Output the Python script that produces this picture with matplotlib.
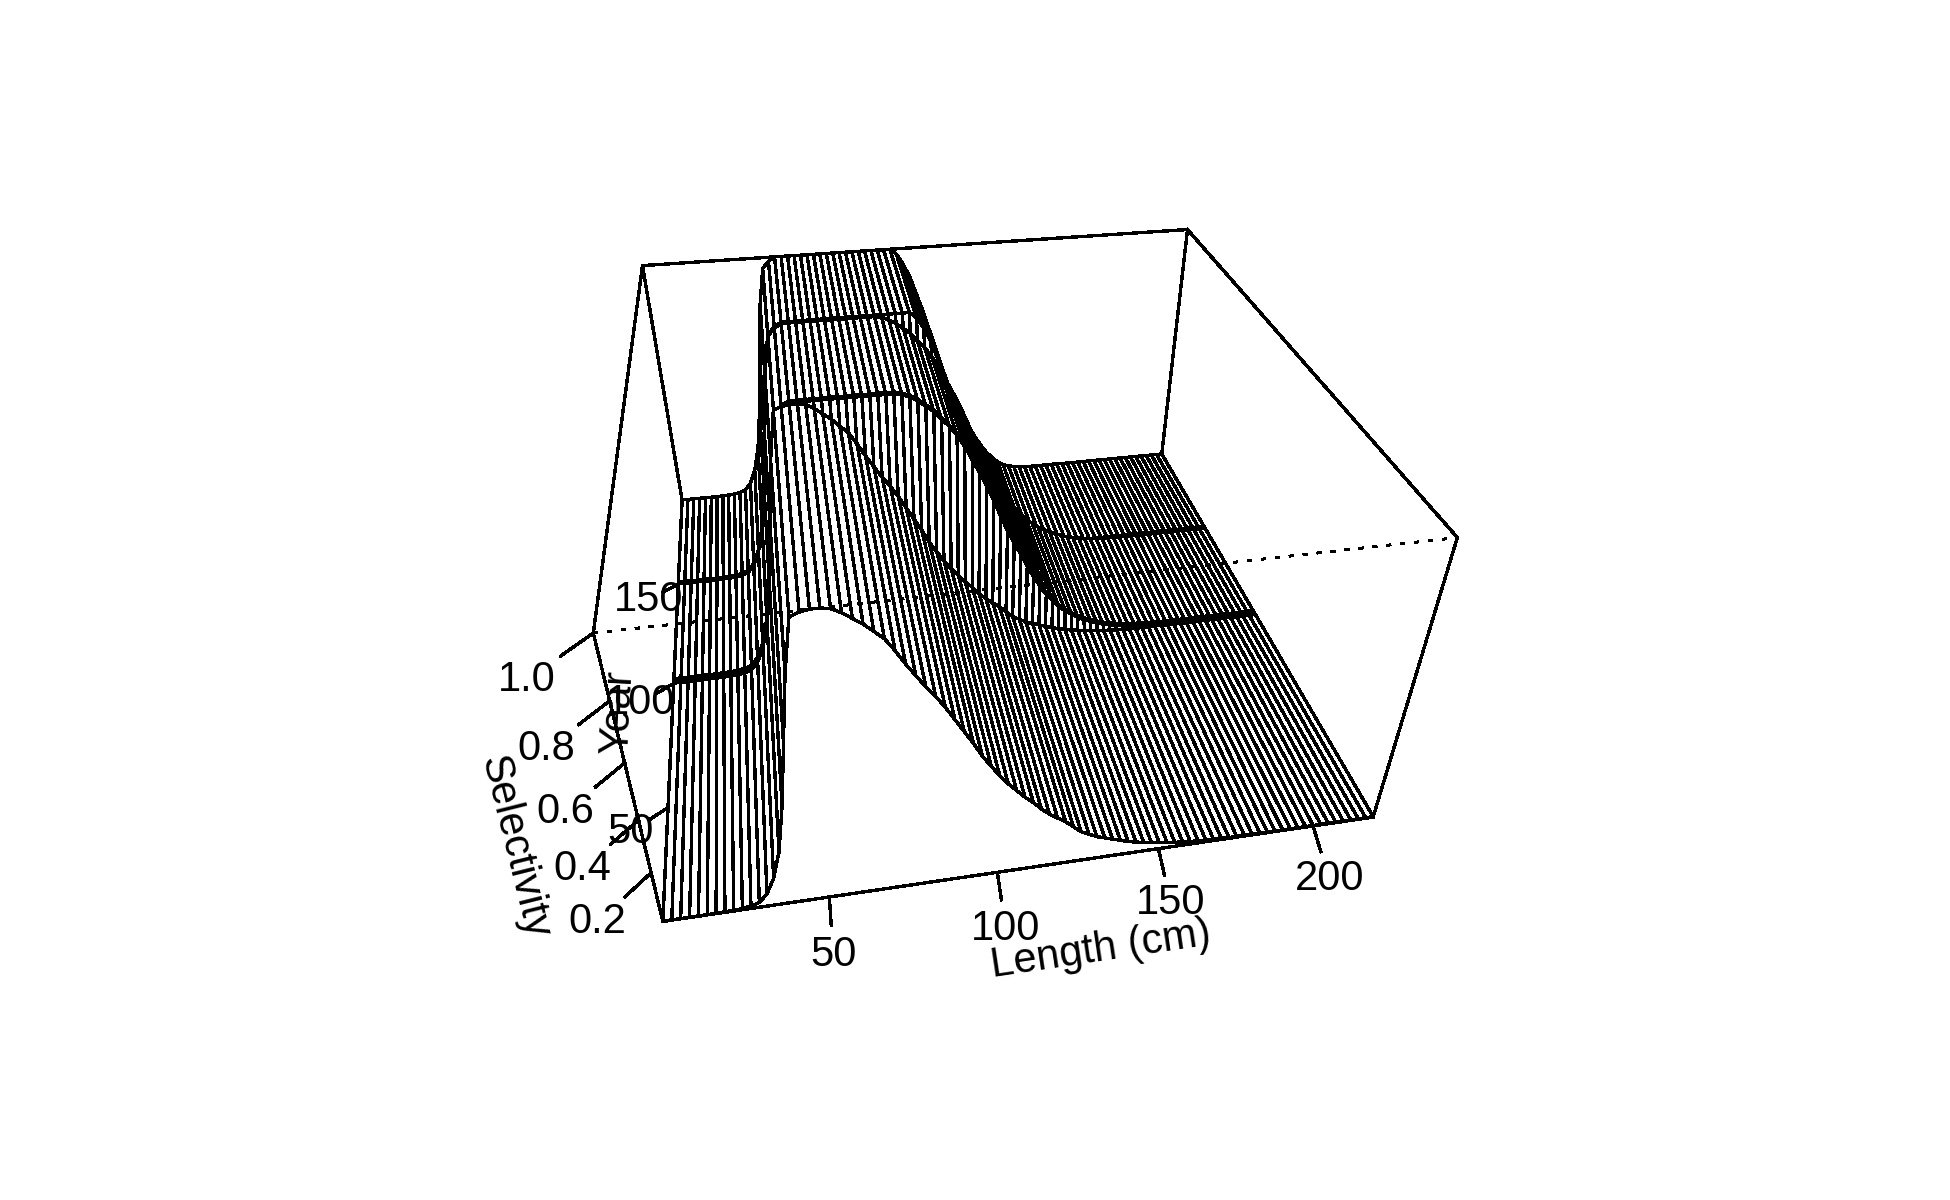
import matplotlib
matplotlib.use("Agg")
from matplotlib import pyplot
from matplotlib.collections import PolyCollection
import numpy as np

pyplot.rcParams["font.family"] = ["Liberation Sans", "DejaVu Sans"]

# selectivity, one value per 2.5 cm length class from 2.5 to 220
lengths = np.arange(2.5, 222.5, 2.5)
rising = [0.001, 0.001, 0.001, 0.001, 0.001, 0.001, 0.001, 0.002, 0.003, 0.005,
          0.01, 0.02, 0.05, 0.11, 0.21, 0.38, 0.60, 0.82]
dome = rising + [0.985, 0.995, 1.0, 1.0, 0.995, 0.98, 0.96, 0.94, 0.915, 0.89,
                 0.85, 0.805, 0.765, 0.725, 0.69, 0.65, 0.605, 0.56, 0.515, 0.465,
                 0.425, 0.385, 0.35, 0.32, 0.29, 0.265, 0.235, 0.21, 0.19, 0.17,
                 0.145, 0.12, 0.105, 0.09, 0.08, 0.07, 0.06, 0.05, 0.043, 0.036,
                 0.03, 0.025, 0.021, 0.017, 0.014, 0.011, 0.009, 0.007, 0.006, 0.005,
                 0.003, 0.003, 0.003, 0.003, 0.003, 0.002, 0.002, 0.002, 0.002, 0.002,
                 0.002, 0.002, 0.002, 0.002, 0.002, 0.002, 0.002, 0.002, 0.002, 0.002]
flat_mid = rising + [0.96, 0.985, 1.0, 1.0, 1.0, 1.0, 1.0, 1.0, 1.0, 1.0,
                     1.0, 1.0, 1.0, 1.0, 1.0, 1.0, 0.995, 0.985, 0.97, 0.95,
                     0.93, 0.90, 0.875, 0.84, 0.80, 0.75, 0.70, 0.65, 0.59, 0.53,
                     0.47, 0.42, 0.37, 0.32, 0.27, 0.23, 0.19, 0.16, 0.13, 0.11,
                     0.09, 0.075, 0.06, 0.05, 0.04, 0.03, 0.024, 0.018, 0.014, 0.01,
                     0.008, 0.006, 0.005, 0.004, 0.003, 0.002, 0.002, 0.002, 0.002, 0.002,
                     0.002, 0.002, 0.002, 0.002, 0.002, 0.002, 0.002, 0.002, 0.002, 0.002]
flat_late = rising + [0.96, 0.985, 1.0, 1.0, 1.0, 1.0, 1.0, 1.0, 1.0, 1.0,
                      1.0, 1.0, 1.0, 1.0, 1.0, 1.0, 1.0, 1.0, 1.0, 1.0,
                      1.0, 0.98, 0.94, 0.89, 0.82, 0.75, 0.67, 0.59, 0.51, 0.43,
                      0.37, 0.31, 0.26, 0.21, 0.165, 0.125, 0.09, 0.065, 0.04, 0.025,
                      0.016, 0.01, 0.006, 0.004, 0.003, 0.003, 0.003, 0.003, 0.003, 0.003,
                      0.002, 0.002, 0.002, 0.002, 0.002, 0.002, 0.002, 0.002, 0.002, 0.002,
                      0.002, 0.002, 0.002, 0.002, 0.002, 0.002, 0.002, 0.002, 0.002, 0.002]
years = [13, 100, 101, 102, 150, 151, 202]
year_profiles = [dome, dome, flat_mid, flat_mid, flat_mid, flat_late, flat_late]

length_ticks = [50, 100, 150, 200]
year_ticks = [50, 100, 150]
select_ticks = [0.2, 0.4, 0.6, 0.8, 1.0]

x0, x1 = lengths[0], lengths[-1]
y0, y1 = years[0], years[-1]
z0, z1 = 0.0, 1.0

# where the box and ticks sit on the canvas, used to calibrate the 3d view
anchors = [
    (x0, y0, z0, 664, 922), (x1, y0, z0, 1372, 818),
    (x1, y1, z0, 1160, 453), (x0, y1, z0, 682, 500),
    (x0, y0, z1, 593, 632), (x1, y0, z1, 1456, 537),
    (x1, y1, z1, 1190, 230), (x0, y1, z1, 642, 267),
    (50, y0, z0, 830, 898), (100, y0, z0, 998, 873),
    (150, y0, z0, 1160, 848), (200, y0, z0, 1313, 827),
    (x0, y0, 0.2, 652, 872), (x0, y0, 0.4, 638, 819),
    (x0, y0, 0.6, 624, 763), (x0, y0, 0.8, 608, 700),
]


def unit(x, y, z):
    return np.stack([(np.asarray(x, float) - x0) / (x1 - x0),
                     (np.asarray(y, float) - y0) / (y1 - y0),
                     (np.asarray(z, float) - z0) / (z1 - z0)], axis=-1)


def calibrate():
    rows = []
    for ax_, ay_, az_, px, py in anchors:
        u, v, w = unit(ax_, ay_, az_)
        rows.append([u, v, w, 1, 0, 0, 0, 0, -px * u, -px * v, -px * w, -px])
        rows.append([0, 0, 0, 0, u, v, w, 1, -py * u, -py * v, -py * w, -py])
    rows = np.array(rows)
    scale = np.array([1, 1, 1, 1, 1, 1, 1, 1, 1e-3, 1e-3, 1e-3, 1e-3])
    sol = np.linalg.svd(rows * scale)[2][-1] * scale
    return sol.reshape(3, 4)


camera = calibrate()
cam_pos = np.linalg.svd(camera)[2][-1]
cam_pos = cam_pos[:3] / cam_pos[3]


def project(x, y, z):
    pts = unit(x, y, z)
    hom = camera @ np.concatenate([pts, np.ones(pts.shape[:-1] + (1,))], axis=-1)[..., None]
    hom = hom[..., 0]
    return hom[..., :2] / hom[..., 2:]


def segment(ax, start, end, **kw):
    pts = project(*np.array([start, end]).T)
    kw.setdefault("color", "black")
    kw.setdefault("linewidth", LW)
    ax.plot(pts[:, 0], pts[:, 1], antialiased=False, **kw)


LW = 1.7
FONT = 30

fig = pyplot.figure(figsize=(19.5, 12), dpi=100)
ax = fig.add_axes([0, 0, 1, 1])
ax.set_xlim(0, 1950)
ax.set_ylim(1200, 0)
ax.axis("off")

# back of the box
for start, end in [((x0, y1, z1), (x1, y1, z1)), ((x0, y1, z1), (x0, y0, z1)),
                   ((x1, y1, z1), (x1, y0, z1)), ((x0, y1, z1), (x0, y1, z0)),
                   ((x1, y1, z1), (x1, y1, z0)), ((x1, y0, z1), (x1, y0, z0))]:
    segment(ax, start, end, zorder=1)

# surface facets, far ones first so near ones cover them
zz = np.array(year_profiles)
row_order = sorted(range(len(years) - 1),
                   key=lambda i: -abs(((years[i] + years[i + 1]) / 2 - y0) / (y1 - y0) - cam_pos[1]))
col_order = sorted(range(len(lengths) - 1),
                   key=lambda j: -abs(((lengths[j] + lengths[j + 1]) / 2 - x0) / (x1 - x0) - cam_pos[0]))
polys = []
for i in row_order:
    for j in col_order:
        xs = [lengths[j], lengths[j + 1], lengths[j + 1], lengths[j]]
        ys = [years[i], years[i], years[i + 1], years[i + 1]]
        zs = [zz[i, j], zz[i, j + 1], zz[i + 1, j + 1], zz[i + 1, j]]
        polys.append(project(xs, ys, zs))
ax.add_collection(PolyCollection(polys, facecolors="white", edgecolors="black",
                                 linewidths=LW, antialiaseds=False, zorder=2))

# axis lines
for end in [(x1, y0, z0), (x0, y1, z0), (x0, y0, z1)]:
    segment(ax, (x0, y0, z0), end, zorder=3)

# ticks and their labels
for val in length_ticks:
    lean = 0.3 - 0.01 * val
    segment(ax, (val, y0, z0), (val + lean, y0 - 8.5, z0), zorder=3)
    px, py = project(val + 2 * lean, y0 - 17, z0)
    ax.text(px, py, str(val), fontsize=FONT, ha="center", va="center", zorder=5)
for val in year_ticks:
    segment(ax, (x0, val, z0), (x0 - 5.6, val - 3.5, z0), zorder=3)
    px, py = project(x0 - 11.2, val - 7, z0)
    ax.text(px, py, str(val), fontsize=FONT, ha="center", va="center", zorder=5)
for val in select_ticks:
    segment(ax, (x0, y0, val), (x0 - 6.6, y0 - 6, val), zorder=3)
    px, py = project(x0 - 13.2, y0 - 12, val)
    ax.text(px, py, f"{val:.1f}", fontsize=FONT, ha="center", va="center", zorder=5)

ax.text(1101, 950, "Length (cm)", fontsize=FONT, rotation=8.5,
        ha="center", va="center", rotation_mode="anchor", zorder=5)
ax.text(618, 712, "Year", fontsize=FONT, rotation=87,
        ha="center", va="center", rotation_mode="anchor", zorder=5)
ax.text(514, 847, "Selectivity", fontsize=FONT, rotation=-76,
        ha="center", va="center", rotation_mode="anchor", zorder=5)

# the near top edge is dotted and lies over the surface
segment(ax, (x0, y0, z1), (x1, y0, z1), linestyle=(0, (2, 4)), zorder=4)

fig.savefig("out.png", dpi=100, facecolor="white")
